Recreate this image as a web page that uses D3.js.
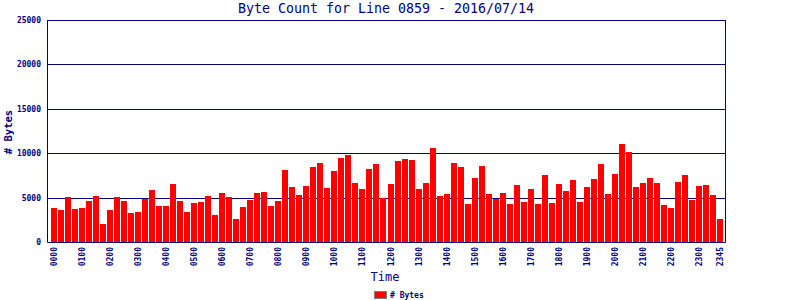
<!DOCTYPE html>
<html>
<head>
<meta charset="utf-8">
<script src="https://cdn.jsdelivr.net/npm/d3@7"></script>
<style>
  body { margin: 0; background: #fff; }
  text { font-family: "DejaVu Sans Mono", "Liberation Mono", monospace; fill: #000080; }
</style>
</head>
<body>
<div id="chart"></div>
<script>
// 15 minute slots, 0000 .. 2345
const times = d3.range(96).map(i => d3.format("02")(Math.floor(i / 4)) + d3.format("02")((i % 4) * 15))

const bytes = [
  3870, 3650, 5110, 3760, 3870, 4660, 5230, 2070, 3650, 5110, 4660, 3310,
  3420, 4890, 5900, 4100, 4100, 6580, 4660, 3420, 4440, 4550, 5230, 3080,
  5570, 5110, 2630, 3990, 4780, 5570, 5680, 4100, 4660, 8160, 6240, 5340,
  6350, 8390, 8950, 6130, 8050, 9510, 9850, 6690, 6020, 8270, 8840, 5000,
  6580, 9170, 9400, 9290, 6020, 6690, 10640, 5230, 5450, 8950, 8390, 4320,
  7260, 8610, 5450, 4890, 5570, 4320, 6470, 4550, 6020, 4320, 7600, 4440,
  6580, 5790, 7030, 4550, 6240, 7140, 8840, 5450, 7710, 11090, 10190, 6240,
  6690, 7260, 6690, 4210, 3870, 6810, 7600, 4780, 6350, 6470, 5340, 2630
]

const tickLabels = ["0000", "0100", "0200", "0300", "0400", "0500", "0600", "0700",
  "0800", "0900", "1000", "1100", "1200", "1300", "1400", "1500", "1600", "1700",
  "1800", "1900", "2000", "2100", "2200", "2300", "2345"]

const yTicks = [0, 5000, 10000, 15000, 20000, 25000]

const width = 800
const height = 300
const plotLeft = 47, plotRight = 725, plotTop = 20, plotBottom = 242
const navy = "#000080"

const svg = d3.select("#chart").append("svg")
  .attr("width", width)
  .attr("height", height)

const x = d3.scaleBand()
  .domain(times)
  .range([51, 723])
  .paddingInner(1 / 7)
  .paddingOuter(0)

const y = d3.scaleLinear()
  .domain([0, 25000])
  .range([plotBottom, plotTop])

// grid lines
svg.append("g")
  .selectAll("line")
  .data(yTicks.filter(d => d > 0))
  .join("line")
    .attr("x1", plotLeft)
    .attr("x2", plotRight)
    .attr("y1", d => Math.round(y(d)) + 0.5)
    .attr("y2", d => Math.round(y(d)) + 0.5)
    .attr("stroke", navy)

// bars
svg.append("g")
  .selectAll("rect")
  .data(bytes)
  .join("rect")
    .attr("x", (d, i) => Math.round(x(times[i])))
    .attr("width", 6)
    .attr("y", d => Math.round(y(d)))
    .attr("height", d => plotBottom - Math.round(y(d)))
    .attr("fill", "#ff0000")

// frame
svg.append("path")
  .attr("d", `M${plotLeft + 0.5},${plotTop}V${plotBottom + 0.5}H${plotRight + 0.5}V${plotTop}`)
  .attr("fill", "none")
  .attr("stroke", navy)

// y tick labels
svg.append("g")
  .selectAll("text")
  .data(yTicks)
  .join("text")
    .attr("x", 41)
    .attr("y", d => y(d) + 3)
    .attr("text-anchor", "end")
    .style("font-size", "8px")
    .style("font-weight", "bold")
    .text(d => d)

// x tick labels, rotated
svg.append("g")
  .selectAll("text")
  .data(tickLabels)
  .join("text")
    .attr("transform", d => `translate(${x(d) + x.bandwidth() / 2 + 3},247) rotate(-90)`)
    .attr("text-anchor", "end")
    .style("font-size", "8px")
    .style("font-weight", "bold")
    .text(d => d)

// title
svg.append("text")
  .attr("x", 386)
  .attr("y", 13)
  .attr("text-anchor", "middle")
  .style("font-size", "13.3px")
  .text("Byte Count for Line 0859 - 2016/07/14")

// axis titles
svg.append("text")
  .attr("x", 385)
  .attr("y", 281)
  .attr("text-anchor", "middle")
  .style("font-size", "12px")
  .text("Time")

svg.append("text")
  .attr("transform", "translate(12,132) rotate(-90)")
  .attr("text-anchor", "middle")
  .style("font-size", "10.5px")
  .style("font-weight", "bold")
  .text("# Bytes")

// legend
svg.append("rect")
  .attr("x", 374.5)
  .attr("y", 291.5)
  .attr("width", 12)
  .attr("height", 7)
  .attr("fill", "#ff0000")
  .attr("stroke", "#808080")

svg.append("text")
  .attr("x", 390)
  .attr("y", 298)
  .style("font-size", "8px")
  .style("font-weight", "bold")
  .text("# Bytes")
</script>
</body>
</html>
